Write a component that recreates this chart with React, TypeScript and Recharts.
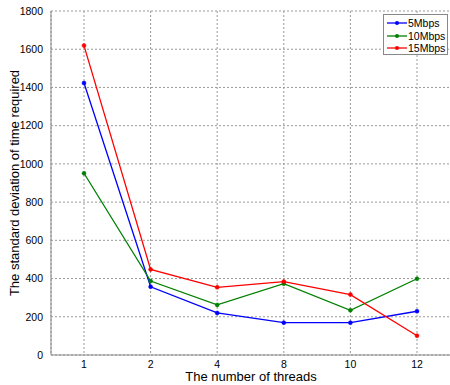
import React from 'react';
import { LineChart, Line, XAxis, YAxis, CartesianGrid, Label } from 'recharts';

const threads = ['1', '2', '4', '8', '10', '12'];
const mbps5 = [1423, 357, 220, 169, 169, 229];
const mbps10 = [951, 387, 262, 373, 234, 399];
const mbps15 = [1619, 448, 354, 384, 316, 101];
const yTicks = [0, 200, 400, 600, 800, 1000, 1200, 1400, 1600, 1800];

const seriesDefs = [
  { key: '5Mbps', color: '#0000ff', values: mbps5 },
  { key: '10Mbps', color: '#008000', values: mbps10 },
  { key: '15Mbps', color: '#ff0000', values: mbps15 },
];

const data = threads.map((t, i) => {
  const row: any = { t };
  seriesDefs.forEach((s) => (row[s.key] = s.values[i]));
  return row;
});

const FONT = 'Liberation Sans, Arial, sans-serif';

const LegendBox = () => (
  <div
    style={{
      position: 'absolute',
      left: 383,
      top: 14,
      background: '#fff',
      border: '1px solid #888',
      width: 65,
      height: 41,
      boxSizing: 'border-box',
      fontFamily: FONT,
      fontSize: 10.5,
      color: '#000',
      paddingTop: 2,
    }}
  >
    {seriesDefs.map((s) => (
      <div key={s.key} style={{ display: 'flex', alignItems: 'center', height: 12.5 }}>
        <svg width={23} height={10} style={{ marginLeft: 1, flex: 'none' }}>
          <line x1={2} y1={5} x2={22} y2={5} stroke={s.color} strokeWidth={1.3} />
          <circle cx={12} cy={5} r={2} fill={s.color} />
        </svg>
        <span style={{ lineHeight: '12px', whiteSpace: 'nowrap' }}>{s.key}</span>
      </div>
    ))}
  </div>
);

export default function App() {
  return (
    <div style={{ position: 'absolute', left: 0, top: 0, width: 450, height: 385, overflow: 'hidden', background: '#fff' }}>
      <LineChart width={452} height={385} data={data} margin={{ top: 11, right: 1, left: 0, bottom: 0 }}>
        <CartesianGrid stroke="#999" strokeDasharray="2 2" />
        <XAxis
          dataKey="t"
          height={30}
          padding={{ left: 33, right: 34 }}
          axisLine={{ stroke: '#888' }}
          tickLine={false}
          tickMargin={0}
          tick={{ fill: '#000', fontSize: 10.5, fontFamily: FONT }}
        >
          <Label value="The number of threads" position="insideBottom" offset={4} style={{ fill: '#000', fontSize: 13, fontFamily: FONT }} />
        </XAxis>
        <XAxis
          xAxisId="top"
          orientation="top"
          dataKey="t"
          height={0}
          padding={{ left: 33, right: 34 }}
          axisLine={{ stroke: '#888' }}
          tick={false}
          tickLine={false}
        />
        <YAxis
          width={51}
          domain={[0, 1800]}
          ticks={yTicks}
          interval={0}
          axisLine={{ stroke: '#888' }}
          tickLine={false}
          tickMargin={2}
          tick={{ fill: '#000', fontSize: 10.5, fontFamily: FONT }}
        >
          <Label
            value="The standard deviation of time required"
            angle={-90}
            position="insideLeft"
            offset={14}
            style={{ textAnchor: 'middle', fill: '#000', fontSize: 13, fontFamily: FONT }}
          />
        </YAxis>
        {seriesDefs.map((s) => (
          <Line
            key={s.key}
            dataKey={s.key}
            stroke={s.color}
            strokeWidth={1.3}
            dot={{ r: 2, fill: s.color, stroke: s.color, strokeWidth: 0.5 }}
            activeDot={false}
            isAnimationActive={false}
          />
        ))}
      </LineChart>
      <LegendBox />
    </div>
  );
}
